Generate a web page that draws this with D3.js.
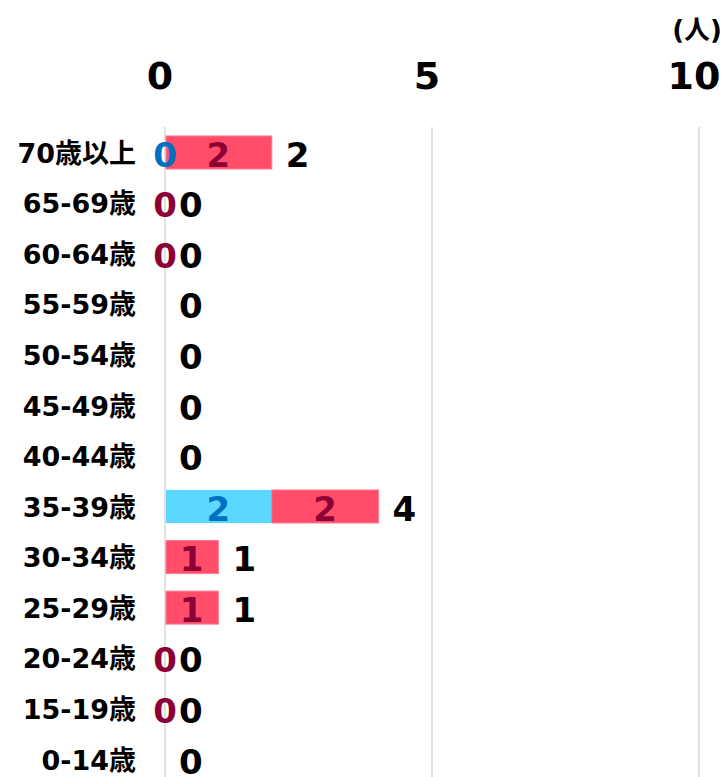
<!DOCTYPE html>
<html>
<head>
<meta charset="utf-8">
<script src="https://cdn.jsdelivr.net/npm/d3@7"></script>
<style>
  body { margin: 0; background: #fff; }
  text { font-family: "DejaVu Sans", "Noto Sans CJK JP", sans-serif; font-weight: bold; }
</style>
</head>
<body>
<svg width="727" height="777"></svg>
<script>
// 数据
var categories = ['70歳以上', '65-69歳', '60-64歳', '55-59歳', '50-54歳', '45-49歳', '40-44歳',
    '35-39歳', '30-34歳', '25-29歳', '20-24歳', '15-19歳', '0-14歳']
// 男性 (null = ラベルなし)
var male = [0, null, null, null, null, null, null, 2, null, null, null, null, null]
// 女性
var female = [2, 0, 0, null, null, null, null, 2, 1, 1, 0, 0, null]
var xTicks = [0, 5, 10]
var unitLabel = '(人)'

var svg = d3.select('svg')

var x = d3.scaleLinear().domain([0, 10]).range([165, 699])
var step = 50.57
var y = d3.scaleBand()
    .domain(categories)
    .range([127.2, 127.2 + step * 13])
    .paddingInner(0.347)
    .paddingOuter(0.1735)

// 网格线
svg.selectAll('line.grid').data(xTicks).enter().append('line')
    .attr('x1', d => x(d)).attr('x2', d => x(d))
    .attr('y1', 127).attr('y2', 777)
    .attr('stroke', '#d9d9d9')
    .attr('stroke-width', 1.5)

// 刻度
svg.selectAll('text.tick').data(xTicks).enter().append('text')
    .attr('x', d => x(d) - 5)
    .attr('y', 89)
    .attr('text-anchor', 'middle')
    .attr('font-size', 38)
    .attr('fill', '#000')
    .text(d => d)

svg.append('text')
    .attr('x', 722).attr('y', 39)
    .attr('text-anchor', 'end')
    .attr('font-size', 26)
    .text(unitLabel)

// 类别标签
svg.selectAll('text.cat').data(categories).enter().append('text')
    .attr('x', 136)
    .attr('y', d => y(d) + y.bandwidth() / 2)
    .attr('dy', '0.38em')
    .attr('text-anchor', 'end')
    .attr('font-size', 27)
    .text(d => d)

var rows = categories.map(function (c, i) {
    var m = male[i] || 0
    var f = female[i] || 0
    return { cat: c, male: male[i], female: female[i], m0: 0, m1: m, f0: m, f1: m + f, total: m + f }
})

// 男性
svg.selectAll('rect.male').data(rows).enter().append('rect')
    .attr('x', d => x(d.m0) + 1)
    .attr('y', d => y(d.cat))
    .attr('width', d => Math.max(0, x(d.m1) - x(d.m0) - 1))
    .attr('height', y.bandwidth())
    .attr('fill', '#5ad8ff')

// 女性
svg.selectAll('rect.female').data(rows).enter().append('rect')
    .attr('x', d => x(d.f0) + (d.f0 === 0 ? 1 : 0))
    .attr('y', d => y(d.cat))
    .attr('width', d => Math.max(0, x(d.f1) - x(d.f0) - (d.f0 === 0 ? 1 : 0)))
    .attr('height', y.bandwidth())
    .attr('fill', '#ff4d6a')
    .attr('stroke', '#ff7a90')
    .attr('stroke-width', d => d.f1 > d.f0 ? 1 : 0)

// 段内标签
svg.selectAll('text.mlab').data(rows.filter(d => d.male !== null)).enter().append('text')
    .attr('x', d => (x(d.m0) + x(d.m1)) / 2)
    .attr('y', d => y(d.cat) + y.bandwidth() / 2)
    .attr('dy', '0.42em')
    .attr('text-anchor', 'middle')
    .attr('font-size', 34)
    .attr('fill', '#0070c0')
    .text(d => d.male)

svg.selectAll('text.flab').data(rows.filter(d => d.female !== null)).enter().append('text')
    .attr('x', d => (x(d.f0) + x(d.f1)) / 2)
    .attr('y', d => y(d.cat) + y.bandwidth() / 2)
    .attr('dy', '0.42em')
    .attr('text-anchor', 'middle')
    .attr('font-size', 34)
    .attr('fill', '#8c0036')
    .text(d => d.female)

// 合计
svg.selectAll('text.total').data(rows).enter().append('text')
    .attr('x', d => x(d.total) + 14)
    .attr('y', d => y(d.cat) + y.bandwidth() / 2)
    .attr('dy', '0.42em')
    .attr('font-size', 34)
    .attr('fill', '#000')
    .text(d => d.total)
</script>
</body>
</html>
